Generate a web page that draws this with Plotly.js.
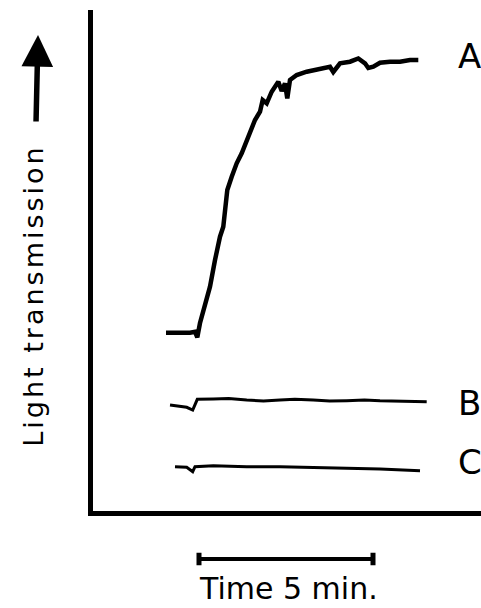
<!DOCTYPE html>
<html>
<head>
<meta charset="utf-8">
<script src="https://cdn.plot.ly/plotly-3.0.1.min.js"></script>
<style>
  html, body { margin: 0; padding: 0; background: #fff; }
  #chart { width: 481px; height: 608px; }
  g.annotation[data-index="0"] text { letter-spacing: 3px; }
</style>
</head>
<body>
<div id="chart"></div>
<script>
// Time in minutes (from the vertical axis), light transmission in arbitrary units
const timeA = [2.098, 2.500, 2.787, 2.931, 2.997, 3.075, 3.218, 3.362, 3.506, 3.649, 3.744, 3.822, 3.859, 3.986, 4.129, 4.273, 4.417, 4.560, 4.655, 4.799, 4.876, 4.991, 5.135, 5.325, 5.422, 5.517, 5.583, 5.661, 5.853, 6.141, 6.523, 6.810, 6.905, 7.098, 7.385, 7.624, 7.816, 7.911, 8.055, 8.247, 8.534, 8.822, 9.109, 9.348];
const transA = [35.66, 35.54, 35.66, 35.86, 34.74, 37.6, 40.86, 44.86, 50.2, 54.86, 56.86, 60.86, 64.2, 66.86, 69.54, 71.54, 74.2, 76.86, 78.2, 79.86, 82.2, 81.54, 83.86, 85.86, 84.0, 85.54, 82.5, 86.2, 87.2, 87.86, 88.54, 88.86, 87.8, 89.54, 89.86, 90.5, 89.54, 88.6, 88.86, 89.66, 89.86, 89.86, 90.2, 90.2];

const timeB = [2.213, 2.500, 2.693, 2.865, 2.931, 2.997, 3.457, 3.9, 4.417, 4.9, 5.374, 5.8, 6.330, 6.8, 7.290, 7.8, 8.247, 8.7, 9.204, 9.589];
const transB = [21.2, 21.0, 20.74, 20.2, 21.4, 22.34, 22.4, 22.5, 22.2, 22.0, 22.2, 22.35, 22.2, 22.0, 22.06, 22.2, 22.06, 21.95, 21.94, 21.86];

const timeC = [2.356, 2.693, 2.865, 2.931, 3.457, 4.417, 5.374, 6.330, 7.290, 8.247, 9.397];
const transC = [8.86, 8.74, 7.86, 8.86, 9.06, 8.86, 8.86, 8.74, 8.54, 8.4, 8.06];

const curveLabels = ['A', 'B', 'C'];
const labelLevels = [91, 21.7, 9.9];
const labelTime = 10.417;

const scaleBarTime = [3.046, 8.046];   // 5 min
const scaleBarText = 'Time 5 min.';
const yTitle = 'Light transmission';

const FONT = 'DejaVu Sans, Arial, sans-serif';

const traces = [
  { x: timeA, y: transA, mode: 'lines', line: { color: '#000', width: 4.5 }, xaxis: 'x', yaxis: 'y' },
  { x: timeB, y: transB, mode: 'lines', line: { color: '#000', width: 3 }, xaxis: 'x', yaxis: 'y' },
  { x: timeC, y: transC, mode: 'lines', line: { color: '#000', width: 3 }, xaxis: 'x', yaxis: 'y' },
  { x: scaleBarTime, y: [0, 0], mode: 'lines+markers', xaxis: 'x', yaxis: 'y2',
    line: { color: '#000', width: 4 },
    marker: { symbol: 'line-ns-open', size: 9, color: '#000', line: { color: '#000', width: 5 } } }
];

const annotations = [
  { xref: 'paper', yref: 'paper', x: -0.1554, y: 0.5217, text: yTitle, textangle: -90,
    showarrow: false, xanchor: 'center', yanchor: 'middle',
    font: { family: FONT, size: 27, color: '#000' } },
  { xref: 'paper', yref: 'paper', x: -0.14175, y: 0.9582, text: '', showarrow: true,
    ax: -2, ay: 88, arrowhead: 2, arrowwidth: 5.5, arrowsize: 1.15, arrowcolor: '#000',
    standoff: 0, startstandoff: 0 },
  { xref: 'paper', yref: 'paper', x: 0.505, y: 0, text: scaleBarText, showarrow: false,
    xanchor: 'center', yanchor: 'bottom', font: { family: FONT, size: 30, color: '#000' } }
];
curveLabels.forEach((lab, i) => {
  annotations.push({ xref: 'x', yref: 'y', x: labelTime, y: labelLevels[i], text: lab,
    showarrow: false, xanchor: 'left', yanchor: 'middle',
    font: { family: FONT, size: 34, color: '#000' } });
});

const layout = {
  width: 481, height: 608,
  margin: { l: 93, r: 0, t: 10, b: 0, pad: 0 },
  paper_bgcolor: '#fff', plot_bgcolor: 'rgba(0,0,0,0)',
  showlegend: false,
  xaxis: { range: [0, 388 / 34.8], showline: true, linewidth: 5, linecolor: '#000',
    showgrid: false, zeroline: false, ticks: '', showticklabels: false, anchor: 'y' },
  yaxis: { domain: [0.1622, 1], range: [0, 100.2], showline: true, linewidth: 5, linecolor: '#000',
    showgrid: false, zeroline: false, ticks: '', showticklabels: false },
  yaxis2: { domain: [0.06, 0.104], range: [-1, 1], visible: false, anchor: 'x' },
  annotations: annotations
};

Plotly.newPlot('chart', traces, layout, { staticPlot: true, displayModeBar: false });
</script>
</body>
</html>
